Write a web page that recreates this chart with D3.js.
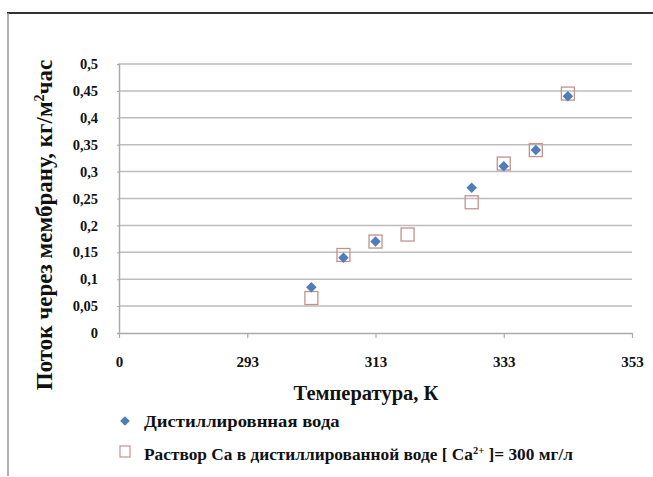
<!DOCTYPE html>
<html>
<head>
<meta charset="utf-8">
<script src="https://cdn.jsdelivr.net/npm/d3@7"></script>
<style>
  html, body { margin: 0; padding: 0; background: #fff; }
</style>
</head>
<body>
<svg id="chart" width="653" height="477"></svg>
<script>
// Temperature, K (the first axis tick sits at 273 and is labelled "0")
// Flux through the membrane, kg/m²·h
const distilledTemps = [303, 308, 313, 328, 333, 338, 343];
const distilledFlux = [0.085, 0.14, 0.17, 0.27, 0.31, 0.34, 0.44];
const caSolutionTemps = [303, 308, 313, 318, 328, 333, 338, 343];
const caSolutionFlux = [0.065, 0.145, 0.17, 0.183, 0.243, 0.315, 0.34, 0.445];

const xTickValues = [273, 293, 313, 333, 353];
const xTickLabels = ["0", "293", "313", "333", "353"];
const yTickValues = [0, 0.05, 0.1, 0.15, 0.2, 0.25, 0.3, 0.35, 0.4, 0.45, 0.5];

const SERIF = '"Liberation Serif"';
const INK = "#111";
const MARKER_BLUE = "#4d7dba";
const MARKER_RED = "#c3938b";

const svg = d3.select("#chart");
const plot = { left: 119, right: 632, top: 64, bottom: 333 };

const x = d3.scaleLinear().domain([273, 353]).range([plot.left, plot.right]);
const y = d3.scaleLinear().domain([0, 0.5]).range([plot.bottom, plot.top]);

function serif(sel, size) {
  return sel.style("font-family", SERIF).style("font-weight", "bold")
    .style("font-size", size + "px").attr("fill", INK);
}

// outer frame (top and left edges)
svg.append("line").attr("x1", 7).attr("x2", 653).attr("y1", 13).attr("y2", 13)
  .attr("stroke", "#333").attr("stroke-width", 1.8);
svg.append("line").attr("x1", 8).attr("x2", 8).attr("y1", 13).attr("y2", 476)
  .attr("stroke", "#999").attr("stroke-width", 1.5);

// horizontal gridlines
svg.append("g").selectAll("line").data(yTickValues.filter(d => d > 0)).join("line")
  .attr("x1", plot.left).attr("x2", plot.right)
  .attr("y1", d => y(d)).attr("y2", d => y(d))
  .attr("stroke", "#bdbdbd").attr("stroke-width", 1.5);

// y axis
const yAxis = svg.append("g").attr("transform", `translate(${plot.left},0)`)
  .call(d3.axisLeft(y).tickValues(yTickValues).tickSize(2).tickPadding(19)
    .tickFormat(d => d3.format("~g")(d).replace(".", ",")));
yAxis.select(".domain").attr("stroke", "#aaa").attr("stroke-width", 1.5);
yAxis.selectAll(".tick line").attr("stroke", "#aaa");
serif(yAxis.selectAll(".tick text"), 14.5);

// x axis
const xAxis = svg.append("g").attr("transform", `translate(0,${plot.bottom})`)
  .call(d3.axisBottom(x).tickValues(xTickValues).tickSize(5).tickPadding(18)
    .tickFormat((d, i) => xTickLabels[i]));
xAxis.select(".domain").attr("stroke", "#aaa").attr("stroke-width", 1.5).attr("d", `M${plot.left},0.5H${plot.right}`);
xAxis.selectAll(".tick line").attr("stroke", "#aaa").attr("stroke-width", 1.2);
serif(xAxis.selectAll(".tick text"), 15);

// series: Ca solution (open squares)
const sq = 13;
svg.append("g").selectAll("rect").data(caSolutionTemps.map((t, i) => [t, caSolutionFlux[i]])).join("rect")
  .attr("x", d => x(d[0]) - sq / 2).attr("y", d => y(d[1]) - sq / 2)
  .attr("width", sq).attr("height", sq)
  .attr("fill", "none").attr("stroke", MARKER_RED).attr("stroke-width", 1.3);

// series: distilled water (diamonds)
const diamond = d3.symbol().type(d3.symbolDiamond2).size(70);
svg.append("g").selectAll("path").data(distilledTemps.map((t, i) => [t, distilledFlux[i]])).join("path")
  .attr("d", diamond)
  .attr("transform", d => `translate(${x(d[0])},${y(d[1])})`)
  .attr("fill", MARKER_BLUE);

// axis titles
serif(svg.append("text"), 20.5).attr("text-anchor", "middle")
  .attr("transform", "translate(366,400)")
  .text("Температура, К");

const yTitle = serif(svg.append("text"), 23).attr("text-anchor", "middle")
  .attr("transform", "translate(52,225) rotate(-90)");
yTitle.append("tspan").text("Поток через мембрану, кг/м");
yTitle.append("tspan").attr("dy", -8).style("font-size", "14px").text("2");
yTitle.append("tspan").attr("dy", 8).text("час");

// legend
const legend = svg.append("g");
legend.append("path").attr("d", d3.symbol().type(d3.symbolDiamond2).size(60)())
  .attr("transform", "translate(125,421)").attr("fill", MARKER_BLUE);
serif(legend.append("text"), 16.5).attr("transform", "translate(144,427) scale(1.13,1)")
  .text("Дистиллировнная вода");

legend.append("rect").attr("x", 120).attr("y", 446).attr("width", 10).attr("height", 11)
  .attr("fill", "none").attr("stroke", MARKER_RED).attr("stroke-width", 1.2);
const l2 = serif(legend.append("text"), 16.5).attr("transform", "translate(144,460) scale(1.05,1)");
l2.append("tspan").text("Раствор Са в дистиллированной воде [ Са");
l2.append("tspan").attr("dy", -6).style("font-size", "10px").text("2+");
l2.append("tspan").attr("dy", 6).text(" ]= 300 мг/л");
</script>
</body>
</html>
